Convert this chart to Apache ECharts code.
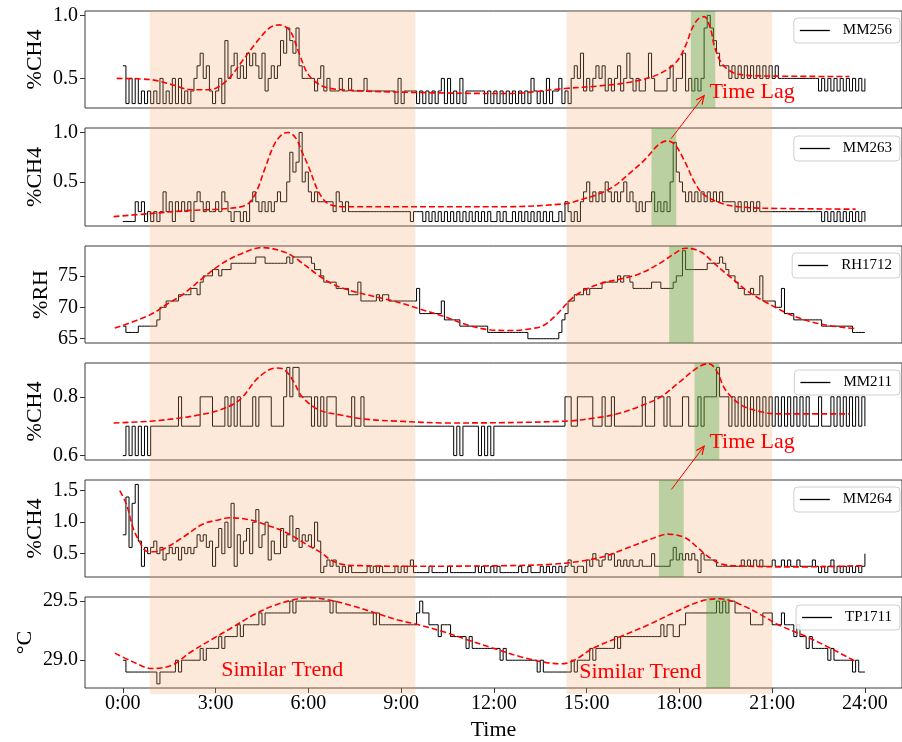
<!DOCTYPE html>
<html>
<head>
<meta charset="utf-8">
<script src="https://cdn.jsdelivr.net/npm/echarts@6/dist/echarts.min.js"></script>
<style>
html,body{margin:0;padding:0;background:#fff;}
#chart{width:902px;height:742px;}
</style>
</head>
<body>
<div id="chart"></div>
<script>
// ---------------- DATA ----------------
// Sensor readings sampled every 0.1 h from 0:00 to 24:00 (241 samples each)
const SAMPLE_STEP_H = 0.1;
const hourTicks = [0, 3, 6, 9, 12, 15, 18, 21, 24];

const mm256 = [
0.6,0.3,0.5,0.3,0.5,0.3,0.4,0.3,0.4,0.3,
0.4,0.3,0.5,0.3,0.4,0.3,0.5,0.3,0.5,0.3,
0.4,0.3,0.4,0.5,0.6,0.7,0.5,0.6,0.4,0.3,
0.4,0.5,0.3,0.8,0.5,0.6,0.7,0.5,0.6,0.5,
0.7,0.6,0.7,0.6,0.5,0.7,0.4,0.5,0.6,0.5,
0.6,0.8,0.7,0.9,0.8,0.7,0.9,0.6,0.5,0.5,
0.5,0.5,0.4,0.5,0.6,0.4,0.5,0.4,0.4,0.4,
0.5,0.4,0.4,0.5,0.4,0.4,0.4,0.4,0.5,0.4,
0.4,0.4,0.4,0.4,0.4,0.4,0.4,0.4,0.3,0.5,
0.3,0.4,0.4,0.4,0.4,0.3,0.4,0.3,0.4,0.3,
0.4,0.3,0.4,0.5,0.3,0.5,0.3,0.4,0.3,0.5,
0.3,0.4,0.4,0.4,0.4,0.4,0.4,0.3,0.4,0.3,
0.4,0.3,0.4,0.3,0.4,0.3,0.4,0.3,0.4,0.3,
0.4,0.3,0.5,0.4,0.3,0.4,0.3,0.5,0.3,0.4,
0.4,0.5,0.3,0.4,0.3,0.5,0.6,0.5,0.7,0.4,
0.5,0.4,0.5,0.6,0.5,0.6,0.4,0.5,0.4,0.5,
0.6,0.4,0.5,0.7,0.5,0.4,0.5,0.4,0.4,0.5,
0.7,0.5,0.4,0.4,0.4,0.4,0.5,0.6,0.4,0.5,
0.5,0.7,0.4,0.5,0.4,0.5,0.4,0.5,0.9,1.0,
0.9,0.8,0.7,0.6,0.6,0.6,0.5,0.6,0.5,0.6,
0.5,0.6,0.5,0.6,0.5,0.6,0.5,0.6,0.5,0.6,
0.5,0.6,0.5,0.5,0.5,0.5,0.5,0.5,0.5,0.5,
0.5,0.5,0.5,0.5,0.5,0.4,0.5,0.4,0.5,0.4,
0.5,0.4,0.5,0.4,0.5,0.4,0.5,0.4,0.5,0.4,
0.5];

const mm263 = [
0.1,0.1,0.1,0.1,0.3,0.2,0.3,0.1,0.2,0.1,
0.2,0.1,0.2,0.4,0.2,0.3,0.1,0.3,0.2,0.3,
0.2,0.3,0.1,0.3,0.4,0.3,0.2,0.3,0.2,0.2,
0.3,0.2,0.4,0.3,0.2,0.1,0.2,0.2,0.1,0.2,
0.1,0.3,0.4,0.3,0.2,0.3,0.2,0.3,0.2,0.3,
0.4,0.3,0.3,0.5,0.8,0.6,0.7,1.0,0.5,0.6,
0.4,0.3,0.4,0.3,0.3,0.3,0.3,0.3,0.2,0.4,
0.3,0.2,0.3,0.2,0.2,0.2,0.2,0.2,0.2,0.2,
0.2,0.2,0.2,0.2,0.2,0.2,0.2,0.2,0.2,0.2,
0.2,0.2,0.2,0.1,0.2,0.2,0.2,0.1,0.2,0.1,
0.2,0.1,0.2,0.1,0.2,0.1,0.2,0.1,0.2,0.1,
0.2,0.1,0.2,0.1,0.2,0.1,0.2,0.1,0.2,0.1,
0.1,0.2,0.1,0.2,0.1,0.1,0.2,0.1,0.2,0.1,
0.2,0.1,0.2,0.1,0.2,0.1,0.2,0.1,0.2,0.1,
0.1,0.2,0.1,0.3,0.2,0.1,0.2,0.1,0.3,0.4,
0.5,0.3,0.4,0.3,0.4,0.3,0.5,0.4,0.3,0.4,
0.3,0.4,0.5,0.3,0.4,0.3,0.2,0.3,0.2,0.3,
0.3,0.4,0.2,0.3,0.2,0.3,0.2,0.5,0.9,0.6,
0.5,0.4,0.3,0.4,0.3,0.4,0.3,0.4,0.3,0.4,
0.3,0.4,0.3,0.4,0.3,0.3,0.3,0.3,0.2,0.3,
0.2,0.3,0.2,0.3,0.2,0.3,0.2,0.2,0.2,0.2,
0.2,0.2,0.2,0.2,0.2,0.2,0.2,0.2,0.2,0.2,
0.2,0.2,0.2,0.2,0.2,0.2,0.1,0.2,0.1,0.2,
0.1,0.2,0.1,0.2,0.1,0.2,0.1,0.2,0.1,0.2,
0.1];

const rh1712 = [
67,66,66,66,66,67,67,67,67,67,
67,68,70,70,71,71,71,71,72,72,
72,72,73,73,72,74,75,75,75,76,
76,75,76,76,76,77,77,77,77,77,
77,77,77,78,78,78,77,77,77,77,
77,77,77,78,77,78,78,78,78,78,
78,77,76,76,75,74,74,74,74,73,
73,73,73,72,72,72,74,71,71,71,
71,71,72,71,72,72,71,71,71,71,
71,71,71,71,71,73,69,69,69,69,
69,69,69,71,68,68,68,68,68,67,
67,67,67,67,67,67,67,67,66,66,
66,66,66,66,66,66,66,66,66,66,
66,65,65,65,65,65,65,65,65,65,
65,66,68,69,71,71,72,72,72,73,
72,73,73,73,73,74,74,74,74,74,
75,74,75,75,74,73,73,73,73,73,
73,74,74,74,73,73,73,73,74,75,
75,79,76,76,76,76,76,76,76,77,
77,77,77,78,77,76,75,75,74,73,
73,72,72,73,72,72,75,71,71,71,
71,70,70,73,69,69,69,68,68,68,
68,68,68,68,68,68,67,67,67,67,
67,67,67,67,67,67,66,66,66,66,
66];

const mm211 = [
0.6,0.7,0.6,0.7,0.6,0.7,0.6,0.7,0.6,0.7,
0.7,0.7,0.7,0.7,0.7,0.7,0.7,0.7,0.8,0.7,
0.7,0.7,0.7,0.7,0.7,0.8,0.8,0.8,0.8,0.7,
0.7,0.7,0.7,0.8,0.7,0.8,0.7,0.8,0.7,0.7,
0.7,0.7,0.8,0.7,0.8,0.8,0.8,0.8,0.7,0.7,
0.7,0.7,0.8,0.9,0.8,0.9,0.9,0.8,0.8,0.8,
0.8,0.7,0.8,0.7,0.8,0.7,0.8,0.8,0.8,0.7,
0.7,0.7,0.7,0.7,0.8,0.7,0.7,0.8,0.7,0.7,
0.7,0.7,0.7,0.7,0.7,0.7,0.7,0.7,0.7,0.7,
0.7,0.7,0.7,0.7,0.7,0.7,0.7,0.7,0.7,0.7,
0.7,0.7,0.7,0.7,0.7,0.7,0.7,0.6,0.7,0.6,
0.7,0.7,0.7,0.7,0.7,0.6,0.7,0.6,0.7,0.6,
0.7,0.7,0.7,0.7,0.7,0.7,0.7,0.7,0.7,0.7,
0.7,0.7,0.7,0.7,0.7,0.7,0.7,0.7,0.7,0.7,
0.7,0.7,0.7,0.8,0.8,0.7,0.7,0.8,0.8,0.8,
0.8,0.8,0.7,0.7,0.7,0.8,0.7,0.7,0.8,0.7,
0.7,0.7,0.7,0.7,0.7,0.7,0.7,0.7,0.8,0.7,
0.7,0.7,0.8,0.8,0.8,0.7,0.8,0.7,0.7,0.7,
0.7,0.8,0.8,0.7,0.7,0.7,0.8,0.7,0.8,0.8,
0.8,0.8,0.9,0.8,0.8,0.8,0.7,0.8,0.7,0.8,
0.7,0.8,0.7,0.8,0.7,0.8,0.7,0.8,0.7,0.8,
0.7,0.8,0.7,0.8,0.7,0.8,0.7,0.8,0.7,0.8,
0.7,0.8,0.7,0.7,0.7,0.8,0.7,0.7,0.7,0.8,
0.7,0.8,0.7,0.8,0.7,0.8,0.7,0.8,0.7,0.8,
0.7];

const mm264 = [
0.8,1.4,0.6,1.3,1.6,0.7,0.3,0.6,0.5,0.6,
0.7,0.5,0.6,0.4,0.5,0.6,0.5,0.6,0.4,0.6,
0.5,0.6,0.5,0.6,0.8,0.7,0.8,0.6,0.7,0.3,
0.6,0.9,0.5,1.0,0.6,1.3,0.3,0.8,0.5,0.7,
0.9,0.5,1.0,1.2,0.6,0.8,1.0,0.4,0.7,0.5,
0.5,0.9,0.6,0.8,1.1,0.7,0.9,0.6,0.8,0.7,
0.8,0.6,1.0,0.7,0.2,0.3,0.4,0.3,0.4,0.3,
0.2,0.3,0.2,0.3,0.2,0.2,0.2,0.2,0.2,0.3,
0.2,0.3,0.2,0.3,0.2,0.2,0.2,0.2,0.3,0.2,
0.3,0.2,0.3,0.4,0.2,0.2,0.2,0.2,0.2,0.3,
0.2,0.2,0.2,0.2,0.2,0.3,0.2,0.2,0.2,0.2,
0.2,0.2,0.2,0.2,0.3,0.2,0.3,0.2,0.2,0.3,
0.2,0.3,0.2,0.2,0.2,0.2,0.2,0.2,0.3,0.2,
0.2,0.3,0.2,0.2,0.2,0.3,0.2,0.3,0.2,0.3,
0.2,0.3,0.2,0.3,0.4,0.3,0.2,0.3,0.3,0.2,
0.4,0.3,0.5,0.4,0.3,0.4,0.5,0.4,0.5,0.3,
0.4,0.3,0.4,0.3,0.4,0.3,0.3,0.4,0.3,0.3,
0.3,0.5,0.3,0.3,0.3,0.3,0.3,0.4,0.6,0.4,
0.5,0.4,0.5,0.4,0.5,0.4,0.2,0.5,0.4,0.4,
0.4,0.4,0.3,0.3,0.3,0.3,0.3,0.3,0.3,0.3,
0.4,0.3,0.4,0.3,0.4,0.3,0.4,0.3,0.3,0.3,
0.4,0.3,0.3,0.4,0.3,0.4,0.3,0.3,0.4,0.3,
0.3,0.3,0.3,0.4,0.3,0.2,0.3,0.2,0.3,0.4,
0.2,0.3,0.2,0.3,0.2,0.3,0.2,0.3,0.2,0.3,
0.5];

const tp1711 = [
29.0,28.9,28.9,28.9,28.9,28.9,28.9,28.9,28.9,28.9,
28.9,28.8,28.9,28.9,28.9,28.9,28.9,29.0,28.9,29.0,
29.0,29.0,29.0,29.0,29.0,29.1,29.0,29.1,29.1,29.1,
29.1,29.2,29.1,29.2,29.2,29.2,29.2,29.3,29.2,29.3,
29.3,29.3,29.3,29.3,29.4,29.3,29.4,29.4,29.4,29.4,
29.4,29.4,29.4,29.4,29.5,29.4,29.5,29.5,29.5,29.5,
29.5,29.5,29.5,29.5,29.5,29.5,29.5,29.4,29.5,29.4,
29.4,29.4,29.4,29.4,29.4,29.4,29.4,29.4,29.4,29.4,
29.4,29.3,29.4,29.3,29.3,29.3,29.3,29.3,29.3,29.3,
29.3,29.3,29.3,29.3,29.3,29.4,29.5,29.4,29.4,29.3,
29.3,29.3,29.2,29.3,29.3,29.3,29.2,29.2,29.2,29.2,
29.2,29.1,29.2,29.1,29.1,29.1,29.1,29.1,29.1,29.1,
29.1,29.1,29.0,29.1,29.0,29.0,29.0,29.0,29.0,29.0,
29.0,29.0,29.0,29.0,28.9,29.0,28.9,28.9,28.9,28.9,
28.9,28.9,28.9,28.9,28.9,29.0,28.9,29.0,29.0,29.0,
29.0,29.1,29.0,29.1,29.1,29.1,29.1,29.1,29.1,29.2,
29.1,29.2,29.2,29.2,29.2,29.2,29.2,29.2,29.2,29.2,
29.2,29.2,29.2,29.2,29.3,29.2,29.3,29.3,29.2,29.2,
29.3,29.3,29.4,29.4,29.4,29.4,29.4,29.4,29.4,29.4,
29.4,29.4,29.5,29.4,29.5,29.4,29.5,29.5,29.4,29.4,
29.4,29.4,29.4,29.3,29.3,29.3,29.3,29.4,29.4,29.4,
29.3,29.3,29.3,29.4,29.3,29.3,29.3,29.2,29.3,29.2,
29.2,29.1,29.2,29.1,29.1,29.1,29.1,29.1,29.0,29.1,
29.0,29.0,29.0,29.0,29.0,29.0,28.9,29.0,28.9,28.9,
28.9];

// Fitted trend curves (red dashed): [hour, value]
const mm256Trend = [[-0.2,0.50],[0.9,0.49],[1.6,0.45],[2.2,0.41],[2.8,0.41],[3.35,0.48],[3.9,0.65],[4.3,0.78],[4.74,0.90],[5.06,0.925],[5.4,0.88],[5.7,0.70],[6.0,0.53],[6.45,0.44],[7.1,0.41],[9.2,0.39],[12.4,0.38],[14.3,0.42],[15.4,0.44],[16.4,0.47],[17.3,0.53],[17.9,0.63],[18.2,0.76],[18.4,0.89],[18.6,0.97],[18.8,0.99],[19.0,0.90],[19.15,0.74],[19.4,0.61],[19.8,0.54],[20.6,0.52],[23.5,0.515]];
const mm263Trend = [[-0.3,0.15],[0.87,0.18],[2.05,0.21],[3.3,0.23],[4.0,0.27],[4.3,0.39],[4.6,0.64],[4.9,0.88],[5.15,0.98],[5.35,1.0],[5.6,0.94],[5.8,0.80],[6.0,0.66],[6.35,0.39],[6.7,0.27],[7.3,0.25],[12.4,0.25],[14.3,0.28],[14.8,0.32],[15.4,0.38],[15.9,0.46],[16.4,0.59],[16.9,0.73],[17.3,0.87],[17.6,0.915],[17.85,0.88],[18.2,0.69],[18.5,0.49],[18.8,0.37],[19.4,0.28],[19.9,0.25],[20.7,0.235],[23.7,0.225]];
const rh1712Trend = [[-0.26,66.7],[0.88,68.8],[1.46,70.6],[1.9,71.9],[2.5,74.3],[3.13,76.7],[3.77,78.4],[4.52,79.5],[5.27,78.7],[5.7,77.4],[6.35,75.0],[6.78,73.7],[7.4,72.6],[8.06,71.8],[8.9,70.8],[9.56,69.8],[10.4,68.5],[11.2,67.1],[11.9,66.4],[12.6,66.3],[13.2,66.6],[13.6,67.1],[14.0,68.7],[14.5,71.3],[14.8,72.4],[15.4,73.7],[16.1,74.5],[16.7,75.3],[17.4,77.1],[17.8,78.4],[18.2,79.4],[18.7,78.8],[19.1,77.1],[19.6,75.0],[20.2,72.6],[20.8,70.8],[21.7,68.6],[22.6,67.3],[23.7,66.6]];
const mm211Trend = [[-0.3,0.711],[0.9,0.717],[1.85,0.728],[2.5,0.739],[3.13,0.755],[3.77,0.789],[4.4,0.867],[4.96,0.898],[5.2,0.894],[5.5,0.856],[5.8,0.80],[6.35,0.755],[7.0,0.739],[7.85,0.724],[8.9,0.717],[10.5,0.711],[14.3,0.717],[15.4,0.73],[16.0,0.742],[16.7,0.767],[17.4,0.80],[18.0,0.85],[18.6,0.90],[18.95,0.913],[19.2,0.889],[19.5,0.822],[20.0,0.772],[20.6,0.75],[21.2,0.742],[22.3,0.742],[23.5,0.742]];
const mm264Trend = [[-0.1,1.5],[0.12,1.28],[0.33,0.91],[0.55,0.68],[0.76,0.54],[0.98,0.53],[1.41,0.60],[1.94,0.76],[2.59,0.97],[3.12,1.04],[3.45,1.07],[4.09,1.04],[4.74,0.94],[5.17,0.86],[5.6,0.75],[6.03,0.62],[6.4,0.52],[6.7,0.41],[7.1,0.33],[7.7,0.31],[9.2,0.30],[12.4,0.31],[13.8,0.33],[14.8,0.38],[15.6,0.46],[16.2,0.57],[16.9,0.70],[17.4,0.79],[17.6,0.81],[18.2,0.75],[18.6,0.59],[19.0,0.43],[19.4,0.33],[20.3,0.30],[21.8,0.29],[24.0,0.31]];
const tp1711Trend = [[-0.26,29.06],[0.3,28.99],[0.94,28.93],[1.6,28.96],[2.2,29.07],[2.9,29.18],[3.56,29.28],[4.2,29.38],[4.85,29.46],[5.5,29.51],[6.0,29.53],[6.67,29.51],[7.42,29.46],[8.17,29.40],[8.9,29.34],[9.57,29.30],[10.5,29.23],[11.18,29.17],[12.0,29.10],[12.86,29.03],[13.7,28.98],[14.2,28.97],[14.6,29.0],[15.2,29.10],[16.1,29.2],[17.0,29.3],[17.8,29.4],[18.7,29.5],[19.3,29.52],[19.9,29.48],[20.6,29.39],[21.2,29.3],[22.1,29.2],[22.9,29.1],[23.7,28.99]];

// Highlighted periods (hours)
const similarTrendWindows = [[0.87, 9.46], [14.35, 21.0]];
const lagWindowMM256 = [18.37, 19.16];
const lagWindowMM263 = [17.1, 17.9];
const lagWindowRH1712 = [17.67, 18.46];
const lagWindowMM211 = [18.49, 19.29];
const lagWindowMM264 = [17.34, 18.14];
const lagWindowTP1711 = [18.87, 19.64];

const seriesNames = ['MM256', 'MM263', 'RH1712', 'MM211', 'MM264', 'TP1711'];
const axisTitles = ['%CH4', '%CH4', '%RH', '%CH4', '%CH4', '°C'];
const yTicks = [[0.5, 1.0], [0.5, 1.0], [65, 70, 75], [0.6, 0.8], [0.5, 1.0, 1.5], [29.0, 29.5]];

// ---------------- LAYOUT / STYLE ----------------
const FONT = '"Liberation Serif", "Times New Roman", serif';
const X_MIN = -1.224, X_MAX = 25.2;
const PLOT_LEFT = 85, PLOT_WIDTH = 820.2;

const panels = [
  {values: mm256,  trend: mm256Trend,  lag: lagWindowMM256,  min: 0.265, max: 1.035, digits: 1, top: 11,  height: 97, nameGap: 39, legendTop: 18},
  {values: mm263,  trend: mm263Trend,  lag: lagWindowMM263,  min: 0.055, max: 1.045, digits: 1, top: 128, height: 98, nameGap: 39, legendTop: 136},
  {values: rh1712, trend: rh1712Trend, lag: lagWindowRH1712, min: 64.32, max: 79.75, digits: 0, top: 246, height: 97, nameGap: 33, legendTop: 253},
  {values: mm211,  trend: mm211Trend,  lag: lagWindowMM211,  min: 0.585, max: 0.915, digits: 1, top: 363, height: 97, nameGap: 39, legendTop: 370},
  {values: mm264,  trend: mm264Trend,  lag: lagWindowMM264,  min: 0.13,  max: 1.67,  digits: 1, top: 480, height: 97, nameGap: 39, legendTop: 487},
  {values: tp1711, trend: tp1711Trend, lag: lagWindowTP1711, min: 28.765,max: 29.535,digits: 1, top: 597, height: 97, nameGap: 49, legendTop: 605}
];

const grids = [], xAxes = [], yAxes = [], series = [], legends = [];

panels.forEach((p, i) => {
  const isLast = i === panels.length - 1;
  grids.push({left: PLOT_LEFT, width: PLOT_WIDTH, top: p.top, height: p.height,
    show: true, borderColor: '#3a3a3a', borderWidth: 1, backgroundColor: 'transparent'});
  xAxes.push({
    type: 'value', gridIndex: i, min: X_MIN, max: X_MAX,
    splitLine: {show: false},
    axisLine: {show: false, onZero: false},
    axisTick: {show: isLast, length: 5, customValues: hourTicks, lineStyle: {color: '#333'}},
    axisLabel: {show: isLast, customValues: hourTicks, formatter: v => v + ':00',
      fontFamily: FONT, fontSize: 20, color: '#000', margin: 6},
    name: isLast ? 'Time' : '', nameLocation: 'middle', nameGap: 31, nameMoveOverlap: false,
    nameTextStyle: {fontFamily: FONT, fontSize: 22, color: '#000'}
  });
  yAxes.push({
    type: 'value', gridIndex: i, min: p.min, max: p.max,
    splitLine: {show: false},
    axisLine: {show: false, onZero: false},
    axisTick: {show: true, length: 5, customValues: yTicks[i], lineStyle: {color: '#333'}},
    axisLabel: {customValues: yTicks[i], formatter: v => v.toFixed(p.digits),
      fontFamily: FONT, fontSize: 20, color: '#000', margin: 7},
    name: axisTitles[i], nameLocation: 'middle', nameRotate: 90, nameGap: p.nameGap,
    nameMoveOverlap: false,
    nameTextStyle: {fontFamily: FONT, fontSize: 22, color: '#000'}
  });
  // measured signal (black step line)
  series.push({
    name: seriesNames[i], type: 'line', xAxisIndex: i, yAxisIndex: i,
    step: 'end', showSymbol: false, symbol: 'none', z: 2, silent: true,
    data: p.values.map((v, k) => [k * SAMPLE_STEP_H, v]),
    lineStyle: {color: '#000', width: 1}, itemStyle: {color: '#000'}
  });
  // time-lag band (green)
  series.push({
    name: seriesNames[i] + ' lag', type: 'line', xAxisIndex: i, yAxisIndex: i, z: 4,
    data: [], silent: true,
    markArea: {silent: true, z: 4, itemStyle: {color: 'rgba(60,160,50,0.34)'},
      data: [[{xAxis: p.lag[0]}, {xAxis: p.lag[1]}]]}
  });
  // trend (red dashed)
  series.push({
    name: seriesNames[i] + ' trend', type: 'line', xAxisIndex: i, yAxisIndex: i,
    smooth: 0.35, showSymbol: false, symbol: 'none', z: 6, silent: true,
    data: p.trend,
    lineStyle: {color: '#ff0000', width: 1.6, type: [6, 3]}
  });
  legends.push({
    data: [seriesNames[i]], right: 2, top: p.legendTop, orient: 'horizontal',
    icon: 'rect', itemWidth: 30, itemHeight: 1.3,
    backgroundColor: 'rgba(255,255,255,0.85)', borderColor: '#cfcfcf', borderWidth: 1,
    borderRadius: 4, padding: [5, 8, 5, 6], z: 20, selectedMode: false,
    textStyle: {fontFamily: FONT, fontSize: 15, color: '#000', padding: [0, 0, 0, 8]}
  });
});

// background grid spanning all panels for the "similar trend" windows
const bgIndex = panels.length;
grids.push({left: PLOT_LEFT, width: PLOT_WIDTH, top: 11, bottom: 742 - 694, show: false});
xAxes.push({type: 'value', gridIndex: bgIndex, min: X_MIN, max: X_MAX, show: false});
yAxes.push({type: 'value', gridIndex: bgIndex, min: 0, max: 1, show: false});
series.push({
  name: 'similar', type: 'line', xAxisIndex: bgIndex, yAxisIndex: bgIndex, z: 3,
  data: [], silent: true,
  markArea: {silent: true, z: 3, itemStyle: {color: 'rgba(244,164,96,0.24)'},
    data: similarTrendWindows.map(w => [{xAxis: w[0]}, {xAxis: w[1]}])}
});

const chart = echarts.init(document.getElementById('chart'), null, {renderer: 'canvas'});
chart.setOption({
  animation: false,
  backgroundColor: '#fff',
  grid: grids, xAxis: xAxes, yAxis: yAxes, legend: legends, series: series
});

// ---------------- ANNOTATIONS ----------------
const labelNotes = [
  {text: 'Time Lag', grid: 0, t: 18.97, v: 0.39},
  {text: 'Time Lag', grid: 3, t: 18.97, v: 0.645},
  {text: 'Similar Trend', grid: 5, t: 3.18, v: 28.915},
  {text: 'Similar Trend', grid: 5, t: 14.76, v: 28.902}
];
const arrowNotes = [
  {from: {grid: 1, t: 17.73, v: 0.937}, to: {grid: 0, t: 18.8, v: 0.362}},
  {from: {grid: 4, t: 17.74, v: 1.519}, to: {grid: 3, t: 18.8, v: 0.632}}
];
const px = (g, t, v) => chart.convertToPixel({gridIndex: g}, [t, v]);
const graphics = [];
labelNotes.forEach(n => {
  const p = px(n.grid, n.t, n.v);
  graphics.push({type: 'text', x: p[0], y: p[1], z: 100,
    style: {text: n.text, fill: '#ff0000', font: '22px ' + FONT, align: 'left', verticalAlign: 'middle'}});
});
arrowNotes.forEach(a => {
  const p0 = px(a.from.grid, a.from.t, a.from.v);
  const p1 = px(a.to.grid, a.to.t, a.to.v);
  graphics.push({type: 'line', z: 100, shape: {x1: p0[0], y1: p0[1], x2: p1[0], y2: p1[1]},
    style: {stroke: '#ff0000', lineWidth: 1}});
  const ang = Math.atan2(p1[1] - p0[1], p1[0] - p0[0]);
  const L = 9, W = 0.42;
  const h1 = [p1[0] - L * Math.cos(ang - W), p1[1] - L * Math.sin(ang - W)];
  const h2 = [p1[0] - L * Math.cos(ang + W), p1[1] - L * Math.sin(ang + W)];
  graphics.push({type: 'polyline', z: 100, shape: {points: [h1, p1, h2]},
    style: {stroke: '#ff0000', lineWidth: 1.2, fill: null}});
});
chart.setOption({graphic: graphics});
</script>
</body>
</html>
